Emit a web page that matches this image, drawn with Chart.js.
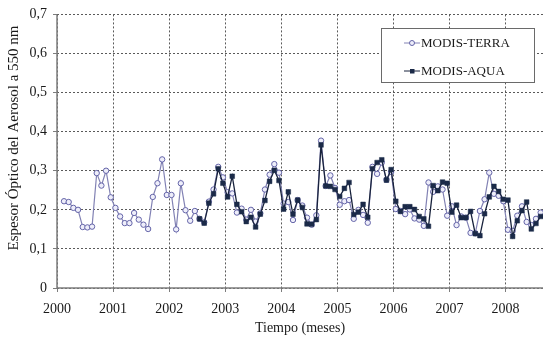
<!DOCTYPE html>
<html>
<head>
<meta charset="utf-8">
<script src="https://cdn.jsdelivr.net/npm/chart.js@4/dist/chart.umd.min.js"></script>
<style>
  html, body { margin: 0; padding: 0; background: #fff; }
  #wrap { width: 548px; height: 338px; position: relative; }
</style>
</head>
<body>
<div id="wrap"><canvas id="c" width="548" height="338"></canvas></div>
<script>
// Monthly mean aerosol optical depth at 550 nm
const terraStart = { year: 2000, month: 2 };   // Feb 2000
const aquaStart  = { year: 2002, month: 7 };   // Jul 2002

const terraValues = [
  0.222, 0.220, 0.205, 0.200, 0.156, 0.155, 0.157, 0.294, 0.262, 0.300,
  0.232, 0.205, 0.183, 0.166, 0.166, 0.192, 0.175, 0.162, 0.151, 0.233,
  0.268, 0.329, 0.238, 0.238, 0.150, 0.268, 0.199, 0.172, 0.197, 0.177,
  0.168, 0.221, 0.252, 0.310, 0.283, 0.245, 0.242, 0.193, 0.203, 0.175,
  0.200, 0.170, 0.191, 0.252, 0.290, 0.317, 0.295, 0.216, 0.220, 0.174,
  0.225, 0.211, 0.180, 0.162, 0.186, 0.377, 0.261, 0.288, 0.256, 0.213,
  0.222, 0.225, 0.177, 0.200, 0.187, 0.167, 0.310, 0.292, 0.321, 0.277,
  0.297, 0.202, 0.197, 0.189, 0.201, 0.178, 0.175, 0.159, 0.270, 0.246,
  0.260, 0.252, 0.185, 0.209, 0.161, 0.183, 0.180, 0.141, 0.140, 0.197,
  0.227, 0.295, 0.241, 0.236, 0.222, 0.149, 0.146, 0.185, 0.209, 0.169,
  0.161, 0.177, 0.193
];

const aquaValues = [
  0.177, 0.166, 0.217, 0.241, 0.305, 0.268, 0.233, 0.286, 0.214, 0.195,
  0.170, 0.181, 0.156, 0.189, 0.224, 0.273, 0.301, 0.275, 0.202, 0.246,
  0.189, 0.225, 0.206, 0.164, 0.163, 0.175, 0.366, 0.261, 0.260, 0.252,
  0.234, 0.255, 0.270, 0.188, 0.194, 0.214, 0.181, 0.305, 0.321, 0.328,
  0.276, 0.303, 0.222, 0.196, 0.208, 0.208, 0.201, 0.183, 0.177, 0.158,
  0.262, 0.249, 0.271, 0.268, 0.194, 0.212, 0.180, 0.180, 0.196, 0.139,
  0.134, 0.190, 0.233, 0.260, 0.247, 0.227, 0.225, 0.132, 0.172, 0.198,
  0.220, 0.151, 0.165, 0.183
];

const yearTicks = [2000, 2001, 2002, 2003, 2004, 2005, 2006, 2007, 2008];
const aodTicks = [0, 0.1, 0.2, 0.3, 0.4, 0.5, 0.6, 0.7];
const yTitle = 'Espesor Óptico del Aerosol a 550 nm';

// place each monthly value at the middle of its month
function monthlyPoints(start, values) {
  return values.map((v, i) => ({
    x: start.year + (start.month - 1 + i + 0.5) / 12,
    y: v
  }));
}

const SERIF = "'Liberation Serif', 'Times New Roman', serif";

const terraStyle = { line: '#8282b4', point: '#6464a8', fill: '#eeeefa' };
const aquaStyle  = { line: '#18223c', point: '#1b2a48', fill: '#1b2a48' };

// solid left and bottom axis lines, plus the rotated y title
const axisFrame = {
  id: 'axisFrame',
  beforeDatasetsDraw(chart) {
    const { ctx, chartArea: a } = chart;
    ctx.save();
    ctx.strokeStyle = '#7d7d7d';
    ctx.lineWidth = 1.5;
    ctx.beginPath();
    ctx.moveTo(a.left, a.top);
    ctx.lineTo(a.left, a.bottom);
    ctx.lineTo(a.right, a.bottom);
    ctx.stroke();
    ctx.restore();
  },
  afterDraw(chart) {
    const ctx = chart.ctx;
    ctx.save();
    ctx.translate(14, 138);
    ctx.rotate(-Math.PI / 2);
    ctx.fillStyle = '#1a1a1a';
    ctx.font = '15px ' + SERIF;
    ctx.textAlign = 'center';
    ctx.textBaseline = 'middle';
    ctx.fillText(yTitle, 0, 0);
    ctx.restore();
  }
};

// boxed legend inside the plot, top right
const boxLegend = {
  id: 'boxLegend',
  afterDraw(chart) {
    const ctx = chart.ctx;
    const x0 = 381, y0 = 28, w = 153, h = 54;
    ctx.save();
    ctx.fillStyle = '#ffffff';
    ctx.fillRect(x0, y0, w, h);
    ctx.strokeStyle = '#6a6a6a';
    ctx.lineWidth = 1;
    ctx.strokeRect(x0 + 0.5, y0 + 0.5, w, h);
    const entries = [chart.data.datasets[1], chart.data.datasets[0]];
    entries.forEach((ds, k) => {
      const y = y0 + 15 + k * 28;
      ctx.strokeStyle = ds.borderColor;
      ctx.lineWidth = 1;
      ctx.beginPath();
      ctx.moveTo(404, y);
      ctx.lineTo(420, y);
      ctx.stroke();
      ctx.fillStyle = ds.pointBackgroundColor;
      ctx.strokeStyle = ds.pointBorderColor;
      if (ds.pointStyle === 'rect') {
        ctx.fillRect(410, y - 2, 4.5, 4.5);
      } else {
        ctx.beginPath();
        ctx.arc(412, y, 2.5, 0, Math.PI * 2);
        ctx.fill();
        ctx.stroke();
      }
      ctx.fillStyle = '#1a1a1a';
      ctx.font = '13px ' + SERIF;
      ctx.textAlign = 'left';
      ctx.textBaseline = 'middle';
      ctx.fillText(ds.label, 421, y + 1);
    });
    ctx.restore();
  }
};

new Chart(document.getElementById('c'), {
  type: 'line',
  data: {
    datasets: [
      {
        label: 'MODIS-AQUA',
        data: monthlyPoints(aquaStart, aquaValues),
        borderColor: aquaStyle.line,
        borderWidth: 1.3,
        pointStyle: 'rect',
        pointRadius: 3.3,
        pointBackgroundColor: aquaStyle.fill,
        pointBorderColor: aquaStyle.point,
        pointBorderWidth: 0.5,
        tension: 0,
        order: 0
      },
      {
        label: 'MODIS-TERRA',
        data: monthlyPoints(terraStart, terraValues),
        borderColor: terraStyle.line,
        borderWidth: 1.2,
        pointStyle: 'circle',
        pointRadius: 2.7,
        pointBackgroundColor: terraStyle.fill,
        pointBorderColor: terraStyle.point,
        pointBorderWidth: 1,
        tension: 0,
        order: 1
      }
    ]
  },
  options: {
    responsive: false,
    animation: false,
    devicePixelRatio: 1,
    layout: { padding: { top: 11, right: 1, left: 0, bottom: 0 } },
    plugins: {
      legend: { display: false },
      tooltip: { enabled: false }
    },
    scales: {
      x: {
        type: 'linear',
        min: 2000,
        max: 2008 + 8 / 12,
        afterBuildTicks(scale) {
          scale.ticks = yearTicks.map(v => ({ value: v }));
        },
        afterFit(scale) { scale.height = 50; },
        ticks: {
          color: '#1a1a1a',
          font: { family: SERIF, size: 14 },
          padding: 9,
          maxRotation: 0,
          callback: v => String(v)
        },
        grid: {
          color: '#5a5a5a',
          lineWidth: 1,
          drawTicks: true,
          tickLength: 4,
          tickColor: '#7d7d7d'
        },
        border: { display: false, dash: [2, 2] },
        title: {
          display: true,
          text: 'Tiempo (meses)',
          color: '#1a1a1a',
          font: { family: SERIF, size: 14 },
          padding: { top: 0, bottom: 1 }
        }
      },
      y: {
        type: 'linear',
        min: 0,
        max: 0.7,
        afterBuildTicks(scale) {
          scale.ticks = aodTicks.map(v => ({ value: v }));
        },
        afterFit(scale) { scale.width = 57; },
        ticks: {
          color: '#1a1a1a',
          font: { family: SERIF, size: 14 },
          padding: 6,
          callback: v => (v === 0 ? '0' : v.toFixed(1).replace('.', ','))
        },
        grid: {
          color: '#5a5a5a',
          lineWidth: 1,
          drawTicks: true,
          tickLength: 4,
          tickColor: '#7d7d7d'
        },
        border: { display: false, dash: [2, 2] }
      }
    }
  },
  plugins: [axisFrame, boxLegend]
});
</script>
</body>
</html>
